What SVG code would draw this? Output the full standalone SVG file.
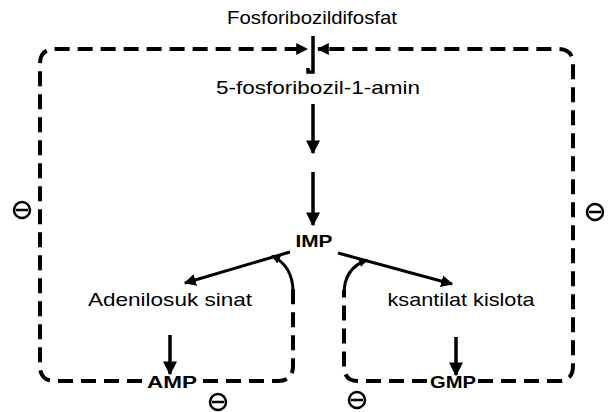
<svg xmlns="http://www.w3.org/2000/svg" width="609" height="412" viewBox="0 0 609 412">
<defs>
<marker id="ah" viewBox="0 0 10 10" refX="9" refY="5" markerWidth="4" markerHeight="4" orient="auto" markerUnits="strokeWidth">
<path d="M0,0 L10,5 L0,10 z" fill="#000"/>
</marker>
<marker id="ah2" viewBox="0 0 10 10" refX="9" refY="5" markerWidth="3" markerHeight="3" orient="auto" markerUnits="strokeWidth">
<path d="M0,0 L10,5 L0,10 z" fill="#000"/>
</marker>
</defs>
<style>
.t{font-family:"Liberation Sans",Arial,sans-serif;font-size:19px;fill:#000;text-anchor:middle}
.b{font-family:"Liberation Sans",Arial,sans-serif;font-size:17px;font-weight:bold;fill:#000;text-anchor:middle}
.solid{fill:none;stroke:#000;stroke-width:3.5}
.thin{fill:none;stroke:#000;stroke-width:3}
.dash{fill:none;stroke:#000;stroke-width:4;stroke-dasharray:15 8}
.minus{fill:none;stroke:#000;stroke-width:2.5}
</style>
<rect width="609" height="412" fill="#fff"/>
<g id="prpp"><text class="t" x="312" y="24" textLength="170" lengthAdjust="spacingAndGlyphs">Fosforibozildifosfat</text></g>
<g id="pra"><text class="t" x="318" y="94" textLength="204" lengthAdjust="spacingAndGlyphs">5-fosforibozil-1-amin</text></g>
<g id="imp"><text class="b" x="314" y="247" textLength="37" lengthAdjust="spacingAndGlyphs">IMP</text></g>
<g id="adenilosuksinat"><text class="t" x="170" y="306" textLength="164" lengthAdjust="spacingAndGlyphs">Adenilosuk sinat</text></g>
<g id="ksantilat"><text class="t" x="461" y="306" textLength="147" lengthAdjust="spacingAndGlyphs">ksantilat kislota</text></g>
<g id="amp"><text class="b" x="172" y="388" textLength="50" lengthAdjust="spacingAndGlyphs">AMP</text></g>
<g id="gmp"><text class="b" x="453" y="388" textLength="46" lengthAdjust="spacingAndGlyphs">GMP</text></g>
<g id="connectors">
<path class="solid" d="M313,36 V72 H308 V68"/>
<path class="solid" d="M313,104 V153" marker-end="url(#ah)"/>
<path class="solid" d="M313,172 V225" marker-end="url(#ah)"/>
<path class="thin" d="M290,252 L185,283" marker-end="url(#ah)"/>
<path class="thin" d="M338,253 L452,284" marker-end="url(#ah)"/>
<path class="solid" d="M170,335 V374" marker-end="url(#ah)"/>
<path class="solid" d="M456,337 V375" marker-end="url(#ah)"/>
<path class="dash" d="M142,381 H55 Q40,381 40,366 V64 Q40,49 55,49 H307" marker-end="url(#ah2)"/>
<path class="dash" d="M478,381 H558 Q573,381 573,366 V64 Q573,49 558,49 H318" marker-end="url(#ah2)"/>
<path class="dash" d="M203,381 H278 Q293,381 293,366 V288"/>
<path class="thin" d="M293,292 Q293,266 272,256" marker-end="url(#ah2)"/>
<path class="dash" d="M427,381 H358 Q344,381 344,366 V290"/>
<path class="thin" d="M344,294 Q344,268 367,260" marker-end="url(#ah2)"/>
</g>
<g id="inhib-left"><circle class="minus" cx="22" cy="210" r="8"/><path class="minus" d="M16,210 H28"/></g>
<g id="inhib-right"><circle class="minus" cx="595" cy="212" r="8"/><path class="minus" d="M589,212 H601"/></g>
<g id="inhib-amp"><circle class="minus" cx="218" cy="402" r="8"/><path class="minus" d="M212,402 H224"/></g>
<g id="inhib-gmp"><circle class="minus" cx="357" cy="400" r="8"/><path class="minus" d="M351,400 H363"/></g>
</svg>
